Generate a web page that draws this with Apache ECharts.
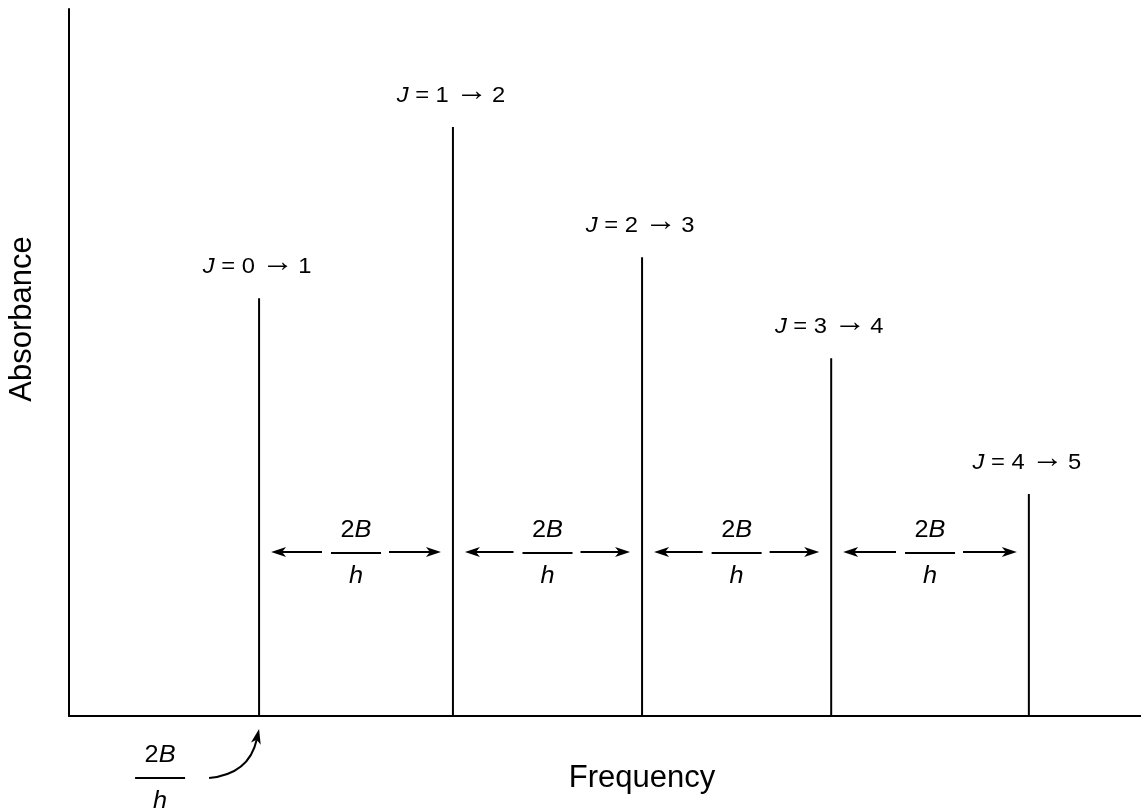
<!DOCTYPE html>
<html>
<head>
<meta charset="utf-8">
<script src="https://cdn.jsdelivr.net/npm/echarts@6/dist/echarts.min.js"></script>
<style>
html, body { margin: 0; padding: 0; background: #fff; }
#main { width: 1141px; height: 811px; }
</style>
</head>
<body>
<div id="main"></div>
<script>
// line positions, in units of 2B/h
var freqs = [1.0, 2.02, 3.015, 4.01, 5.05];
// line heights, % of the axis height
var absorb = [59.1, 83.3, 64.9, 50.6, 31.4];
var transLower = ['0', '1', '2', '3', '4'];
var transUpper = ['1', '2', '3', '4', '5'];
var freqMax = 5.64;
var absMax = 100;
var arrowLevel = 23.2;   // height of the 2B/h spacing arrows

var FONT = '"Liberation Sans", Arial, Helvetica, sans-serif';
var myChart = echarts.init(document.getElementById('main'));

var lineData = [];
var gapData = [];
for (var i = 0; i < freqs.length; i++) {
    lineData.push([freqs[i], absorb[i], i]);
    if (i > 0) {
        gapData.push([freqs[i - 1], freqs[i]]);
    }
}

// arrow head, tip at (x, y), pointing along angle
function head(x, y, angle) {
    var pts = [[0, 0], [-15, -5], [-11, 0], [-15, 5]];
    var c = Math.cos(angle), s = Math.sin(angle);
    return {
        type: 'polygon',
        shape: {
            points: pts.map(function (p) {
                return [x + p[0] * c - p[1] * s, y + p[0] * s + p[1] * c];
            })
        },
        style: {fill: '#000'}
    };
}

function fraction(cx, cy, size) {
    return [
        {
            type: 'line',
            shape: {x1: cx - 25, y1: cy, x2: cx + 25, y2: cy},
            style: {stroke: '#000', lineWidth: 2}
        },
        {
            type: 'text',
            x: cx, y: cy - 22,
            scaleX: 1.1,
            style: {
                text: '{n|2}{i|B}',
                rich: {
                    n: {font: size + 'px ' + FONT, fill: '#000'},
                    i: {font: 'italic ' + size + 'px ' + FONT, fill: '#000'}
                },
                align: 'center', verticalAlign: 'middle'
            }
        },
        {
            type: 'text',
            x: cx, y: cy + 24,
            scaleX: 1.1,
            style: {
                text: 'h',
                font: 'italic ' + size + 'px ' + FONT, fill: '#000',
                align: 'center', verticalAlign: 'middle'
            }
        }
    ];
}

function renderLine(params, api) {
    var base = api.coord([api.value(0), 0]);
    var top = api.coord([api.value(0), api.value(1)]);
    var idx = api.value(2);
    var children = [
        {
            type: 'line',
            shape: {x1: base[0], y1: base[1], x2: top[0], y2: top[1]},
            style: {stroke: '#000', lineWidth: 2}
        },
        {
            type: 'text',
            x: top[0] - 2, y: top[1] - 31,
            scaleX: 1.08,
            style: {
                text: '{i|J}{n| = ' + transLower[idx] + ' }{a|→}{s| }{n|' + transUpper[idx] + '}',
                rich: {
                    i: {font: 'italic 22px ' + FONT, fill: '#000'},
                    n: {font: '22px ' + FONT, fill: '#000'},
                    s: {font: '14px ' + FONT, fill: '#000'},
                    a: {font: '30px ' + FONT, fill: '#000', padding: [0, 0, 9, 0]}
                },
                align: 'center', verticalAlign: 'middle'
            }
        }
    ];
    if (idx === 0) {
        // 2B/h marker under the first line, with a curved arrow
        children = children.concat(fraction(base[0] - 99, base[1] + 62, 23));
        var x1 = base[0] - 50, y1 = base[1] + 62;
        var tipX = base[0], tipY = base[1] + 13;
        var cpx = base[0] - 10, cpy = base[1] + 58;
        var ang = Math.atan2(tipY - cpy, tipX - cpx);
        children.push({
            type: 'bezierCurve',
            shape: {x1: x1, y1: y1, x2: tipX - 11 * Math.cos(ang), y2: tipY - 11 * Math.sin(ang), cpx1: cpx, cpy1: cpy},
            style: {stroke: '#000', lineWidth: 2, fill: null}
        });
        children.push(head(tipX, tipY, ang));
    }
    return {type: 'group', children: children};
}

function renderGap(params, api) {
    var a = api.coord([api.value(0), arrowLevel]);
    var b = api.coord([api.value(1), arrowLevel]);
    var y = a[1];
    var mid = (a[0] + b[0]) / 2;
    var left = a[0] + 12, right = b[0] - 12;
    var children = [
        {
            type: 'line',
            shape: {x1: left + 11, y1: y, x2: mid - 34, y2: y},
            style: {stroke: '#000', lineWidth: 1.8}
        },
        head(left, y, Math.PI),
        {
            type: 'line',
            shape: {x1: mid + 33, y1: y, x2: right - 11, y2: y},
            style: {stroke: '#000', lineWidth: 1.8}
        },
        head(right, y, 0)
    ];
    children = children.concat(fraction(mid, y + 1, 23));
    return {type: 'group', children: children};
}

var option = {
    backgroundColor: '#fff',
    animation: false,
    grid: {left: 69, right: 0, top: 9, bottom: 95},
    xAxis: {
        type: 'value',
        min: 0,
        max: freqMax,
        axisLine: {show: true, lineStyle: {color: '#000', width: 2}},
        axisTick: {show: false},
        axisLabel: {show: false},
        splitLine: {show: false}
    },
    yAxis: {
        type: 'value',
        min: 0,
        max: absMax,
        axisLine: {show: true, lineStyle: {color: '#000', width: 2}},
        axisTick: {show: false},
        axisLabel: {show: false},
        splitLine: {show: false}
    },
    graphic: [
        {
            type: 'text',
            x: 22, y: 319,
            rotation: Math.PI / 2,
            style: {
                text: 'Absorbance', font: '31px ' + FONT, fill: '#000',
                align: 'center', verticalAlign: 'middle'
            }
        },
        {
            type: 'text',
            x: 642, y: 778,
            style: {
                text: 'Frequency', font: '31px ' + FONT, fill: '#000',
                align: 'center', verticalAlign: 'middle'
            }
        }
    ],
    series: [
        {
            type: 'custom',
            name: 'lines',
            renderItem: renderLine,
            data: lineData,
            clip: false,
            silent: true
        },
        {
            type: 'custom',
            name: 'spacing',
            renderItem: renderGap,
            data: gapData,
            clip: false,
            silent: true
        }
    ]
};

myChart.setOption(option);
</script>
</body>
</html>
